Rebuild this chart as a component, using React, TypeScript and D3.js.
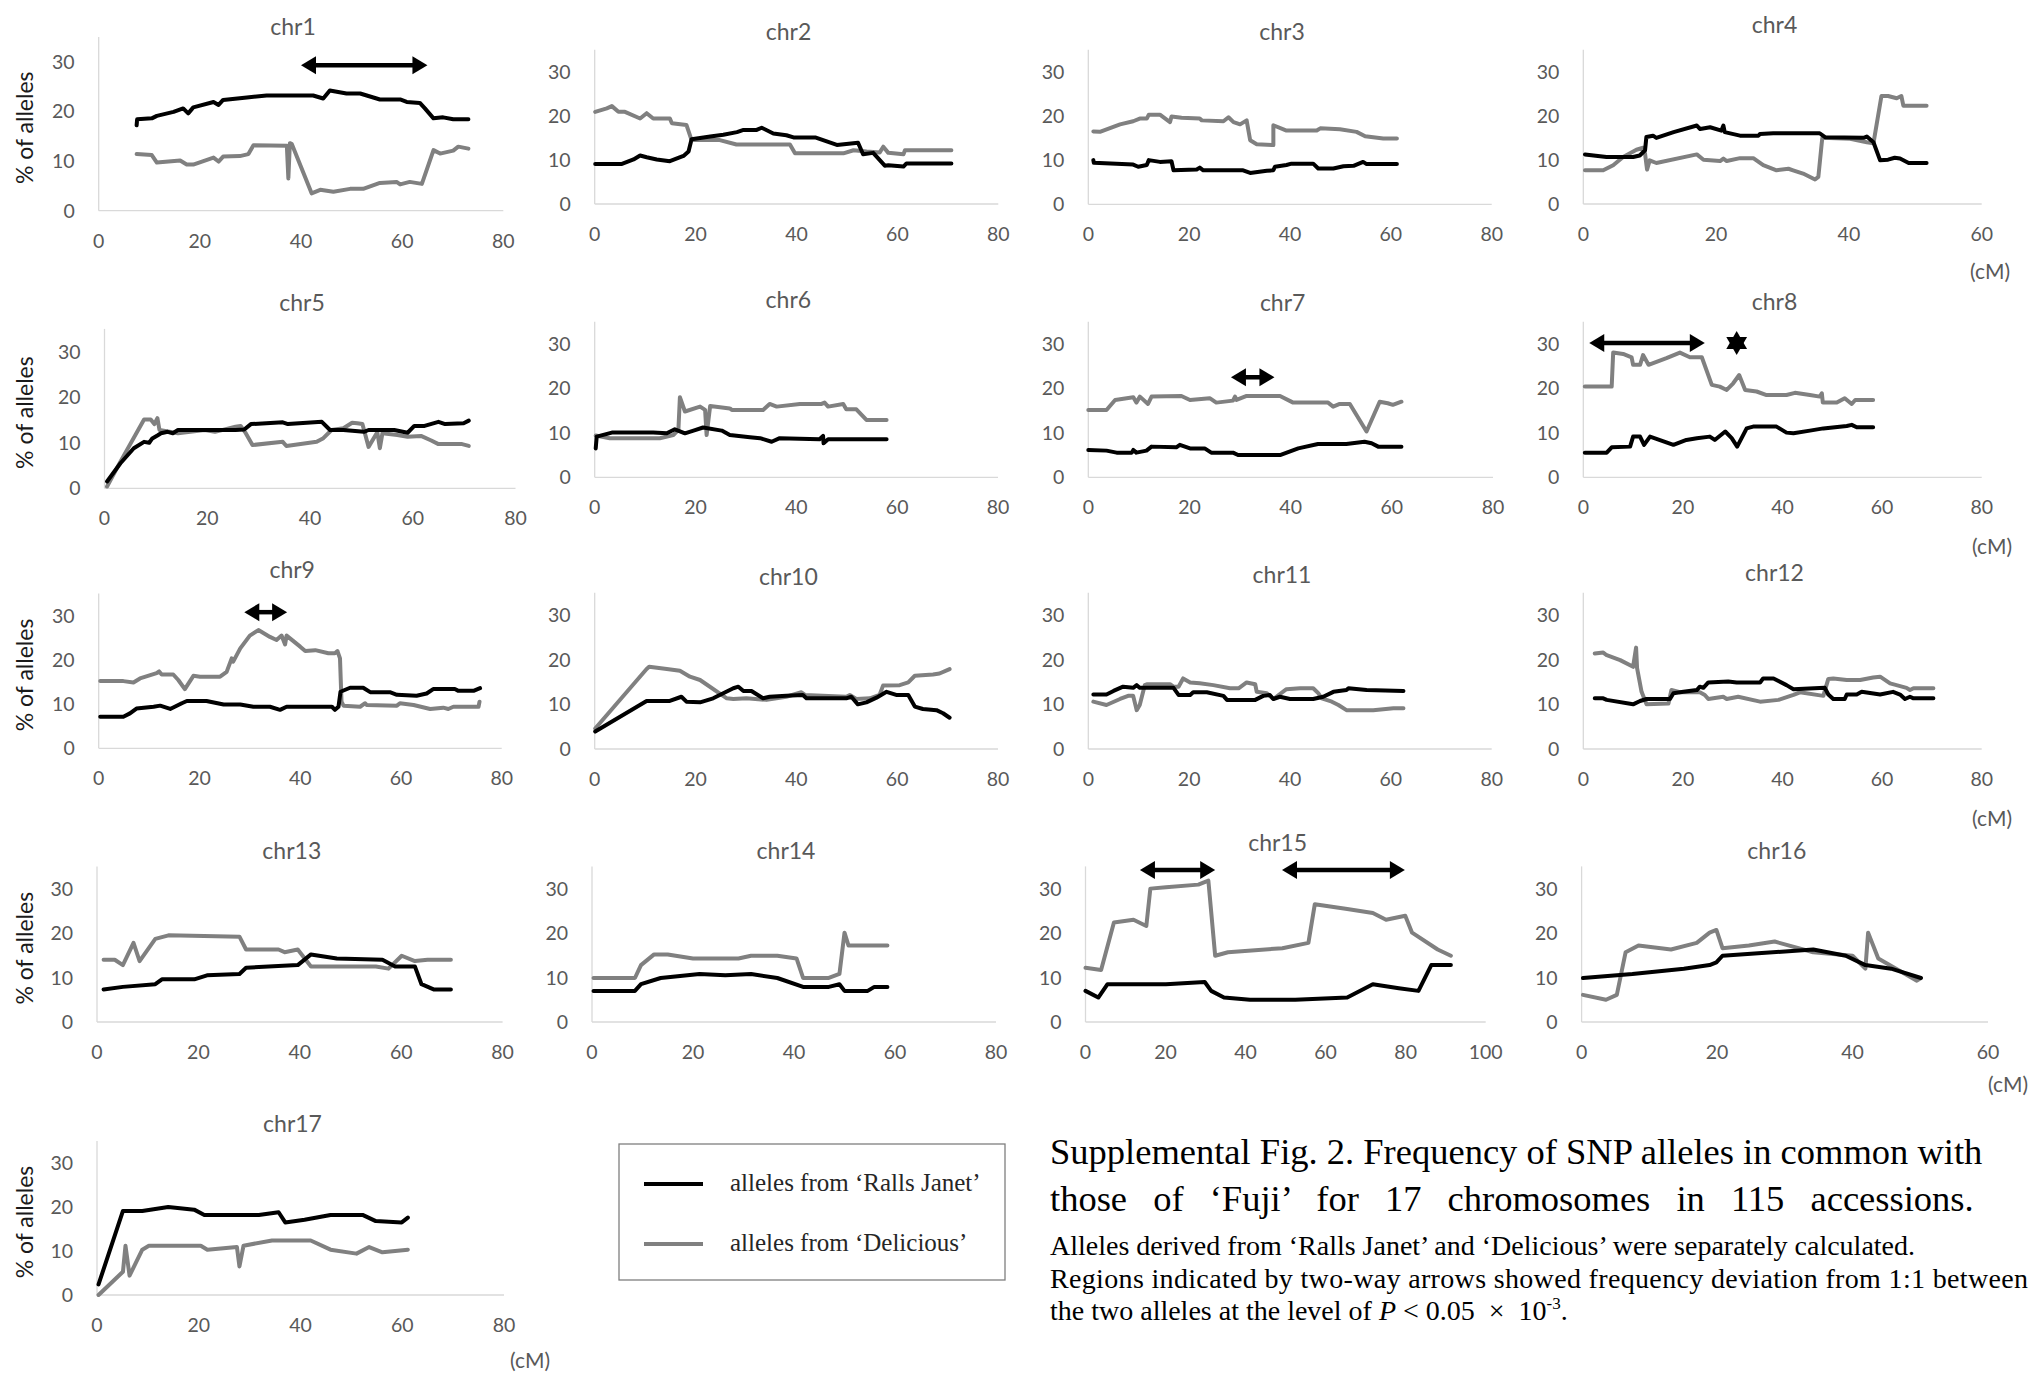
import React from "react";
import * as d3 from "d3";

type Pt = [number, number];

// --- data: [cM, % of alleles] ---
const chr1Ralls: Pt[] = [[7.5,17.2],[7.6,18.4],[10.5,18.6],[11.5,19.1],[14.8,19.9],[16.7,20.6],[17.7,19.6],[18.7,20.8],[22.7,21.9],[23.7,21.3],[24.6,22.3],[29.3,22.8],[33.2,23.2],[42.4,23.2],[44.4,22.6],[45.7,24.2],[49,23.6],[51.7,23.6],[55.6,22.4],[59.6,22.4],[60.9,21.9],[63.5,21.7],[64.5,20.6],[66.2,18.6],[68.1,18.8],[70.1,18.4],[73.1,18.4]];
const chr1Delicious: Pt[] = [[7.5,11.4],[10.5,11.2],[11.5,9.7],[16.1,10.1],[17.4,9.3],[18.7,9.3],[22.7,10.7],[23.7,9.9],[24.6,10.9],[27.9,11],[29.6,11.4],[30.6,13.2],[37.2,13.1],[37.5,6.5],[37.8,13.6],[38.2,13.4],[42.1,3.5],[43.8,4.2],[46.4,3.8],[49.7,4.4],[52.3,4.4],[55.6,5.6],[58.9,5.8],[59.6,5.3],[61.5,5.8],[63.9,5.4],[66.2,12.2],[67.5,11.5],[70.1,12.1],[71.1,12.9],[73.1,12.5]];

const chr2Ralls: Pt[] = [[0.1,9.1],[5.4,9.1],[7.7,10.1],[9,11],[10.3,10.6],[12.3,10.1],[14.9,9.7],[17.6,10.9],[18.6,11.9],[19.2,14.7],[22.9,15.3],[25.5,15.7],[28.2,16.3],[29.5,16.8],[32.1,16.8],[33.1,17.3],[35.4,16],[38,15.6],[39.4,15.1],[43.7,15.1],[48,13.4],[52.2,13.9],[53.2,11.3],[55.2,11.6],[57.5,8.7],[58.2,8.8],[61.2,8.5],[61.8,9.2],[70.7,9.2]];
const chr2Delicious: Pt[] = [[0.1,20.9],[2.4,21.7],[3.4,22.2],[4.7,20.9],[6,20.9],[9,19.4],[10.3,20.6],[11.6,19.4],[14.9,19.4],[15.3,18.3],[18.2,17.9],[19.2,14.5],[24.8,14.5],[28.1,13.5],[38.7,13.5],[39.7,11.5],[49.3,11.5],[51.3,12.2],[53.9,11.9],[56.5,11.7],[57.2,13],[58.2,11.6],[61.2,11.3],[61.5,12.2],[70.7,12.2]];

const chr3Ralls: Pt[] = [[1,10],[1.1,9.4],[8.9,9],[9.9,8.5],[11.6,8.9],[12,10],[14.2,9.6],[16.5,9.75],[16.9,7.7],[21.5,7.9],[22.1,8.3],[22.8,7.7],[30.7,7.7],[32.1,7.1],[35.4,7.6],[36.7,7.7],[37,8.5],[39.3,8.9],[40.3,9.2],[44.6,9.2],[45.6,8.1],[48.6,8.1],[50.6,8.6],[52.6,8.7],[54.5,9.6],[55.2,9.1],[61.2,9.1]];
const chr3Delicious: Pt[] = [[1,16.5],[2.3,16.4],[6.3,18.1],[8.9,18.8],[10.2,19.4],[11.6,19.4],[12,20.3],[14.2,20.3],[16.2,18.6],[16.5,19.9],[18.5,19.6],[22.1,19.4],[22.5,19],[26.8,18.8],[27.8,19.7],[28.8,18.6],[30.1,18.1],[31.4,19],[32.1,14.5],[33.4,13.6],[36.7,13.4],[36.7,17.9],[39.3,16.7],[45.3,16.7],[46,17.2],[49.9,17],[53.2,16.4],[54.9,15.4],[58.5,14.9],[61.2,14.9]];

const chr4Ralls: Pt[] = [[0.25,11.25],[3.5,10.65],[7.5,10.65],[8.5,11],[9.3,12.2],[9.5,15.2],[10.5,15.5],[11,15],[13.6,16.3],[17.1,17.8],[17.6,17],[19.1,17.4],[20.8,16.65],[21.1,17.8],[21.3,16.3],[23.6,15.5],[26.4,15.5],[26.6,15.9],[28.6,16.05],[35.6,16.05],[36.4,15.15],[42.2,15],[42.7,15.3],[43.7,14],[44.7,9.9],[45.9,10.05],[46.9,10.5],[47.7,10.3],[49,9.3],[51.7,9.3]];
const chr4Delicious: Pt[] = [[0.25,7.65],[3,7.65],[4.5,8.8],[6,10.65],[8,12.3],[9,12.75],[9.3,11.4],[9.6,7.8],[10,9.9],[11,9.3],[17.1,11.25],[18.1,10.05],[20.6,9.75],[21.1,10.3],[21.6,9.75],[23.6,10.4],[25.6,10.4],[27.1,8.8],[29.1,7.65],[30.9,8],[31.6,7.65],[33.1,6.9],[34.9,5.55],[35.4,6.15],[35.9,13.65],[36,15],[40.2,14.8],[42.7,14],[43.7,13.8],[44.9,24.5],[45.9,24.5],[47.2,24],[47.9,24.5],[48.2,22.3],[51.7,22.3]];

const chr5Ralls: Pt[] = [[0.5,1.5],[3.1,5.5],[5.7,8.8],[7.7,10.2],[8.7,10],[9.3,10.95],[10.3,11.6],[11,12.1],[12.3,12.4],[13.3,12.1],[14.3,12.8],[25.5,12.8],[27.2,12.9],[28.5,14.1],[34.7,14.5],[35.7,14.1],[42.3,14.6],[43.9,12.8],[46.5,12.8],[50.5,12.4],[51.4,12.8],[56.4,12.8],[59,12.2],[60.3,13.7],[62.3,13.7],[65,14.6],[66.3,14.1],[69.9,14.3],[70.9,14.85]];
const chr5Delicious: Pt[] = [[0.5,0.4],[3.1,5.85],[7.7,15.1],[9,15.1],[9.7,14.1],[10.3,15.4],[10.7,12.8],[14.3,12.1],[19.5,12.8],[21.5,12.4],[25.5,13.5],[26.5,13.7],[27.5,12.1],[28.8,9.5],[34.7,10.2],[35.4,9.3],[41.3,10.2],[42.6,11],[44.2,12.8],[46.5,13.2],[48.2,14.4],[49.2,14.3],[50.2,14.1],[51.4,9.1],[53.1,12.3],[53.6,8.8],[54.1,12.1],[57,11.7],[59,11.3],[61.6,11.5],[63.6,10.5],[65,9.7],[69.6,9.7],[70.9,9.3]];

const chr6Ralls: Pt[] = [[0.2,6.5],[0.4,9.15],[3.4,10.05],[11.6,10.05],[14.3,9.9],[15.9,10.8],[17.9,9.9],[19.6,10.5],[21.5,11.2],[25.2,10.5],[26.8,9.5],[30.8,9],[32.8,8.8],[35.1,8],[36.7,8.8],[44.6,8.55],[45.3,9.3],[45.4,7.65],[46.3,8.55],[57.9,8.55]];
const chr6Delicious: Pt[] = [[0.2,9.4],[3,8.8],[12.9,8.8],[15.6,9.5],[16.6,10.65],[16.9,18],[17.9,14.8],[20.9,15.9],[21.9,15.15],[22.2,9.5],[22.9,16.05],[26.8,15.5],[27.2,15.15],[33.4,15.15],[34.7,16.5],[36.1,15.9],[40.7,16.5],[45,16.5],[45.6,16.8],[46.3,15.9],[49.3,16.5],[49.9,15.3],[51.9,15.3],[53.9,12.9],[57.9,12.9]];

const chr7Ralls: Pt[] = [[0,6.15],[3.6,6],[5.6,5.55],[8.6,5.55],[8.9,6.15],[9.5,5.55],[11.5,6],[12.5,6.9],[17.4,6.75],[18.1,7.3],[20.1,6.5],[23,6.5],[24.3,5.55],[28.6,5.55],[29.6,5],[37.9,5],[41.5,6.5],[45.4,7.5],[51,7.5],[54.6,8],[56,7.65],[57.3,6.9],[61.9,6.9]];
const chr7Delicious: Pt[] = [[0,15.15],[3.6,15.15],[5.3,17.4],[8.9,18],[9.5,16.8],[10.2,18.15],[11.8,16.5],[12.5,18.15],[18.4,18.3],[20.1,17.4],[24,17.8],[25.3,16.8],[28.6,17.25],[29,18.15],[29.3,17.4],[31.3,18.3],[37.9,18.3],[40.5,16.8],[47.4,16.8],[48.4,15.9],[49.7,16.5],[51.7,16.5],[55,10.3],[57.6,17],[59.2,16.65],[60.2,16.3],[61.9,17]];

const chr8Ralls: Pt[] = [[0.3,5.55],[4.7,5.55],[5.7,6.75],[9.4,6.9],[10,9.15],[11.4,9.15],[12.2,7.3],[13.4,9.15],[18.1,7.3],[20.7,8.4],[22.8,8.8],[25.4,9.15],[26.4,8.4],[28.5,10.3],[29.8,8.8],[30.9,6.9],[32.8,11],[34.1,11.4],[38.8,11.4],[40.8,10.05],[42.2,9.9],[45.5,10.5],[48.2,11],[52.9,11.55],[53.9,11.8],[54.9,11.25],[58.2,11.25]];
const chr8Delicious: Pt[] = [[0.3,20.4],[5.7,20.4],[6,28.05],[8,27.75],[9.7,27],[10,25.3],[11.4,25.3],[12,27.5],[13.1,25.3],[16.7,26.8],[19.4,28.05],[21.4,27],[23.8,27],[25.8,20.8],[27.4,20.4],[28.8,19.65],[30.1,21.15],[31.3,23],[32.5,19.65],[34.8,19.3],[36.8,18.5],[40.8,18.5],[42.5,19],[45.5,18.5],[47.5,18.15],[47.9,18.9],[48.1,16.8],[50.9,16.8],[52.5,17.8],[53.9,16.5],[54.6,17.4],[58.2,17.4]];

const chr9Ralls: Pt[] = [[0.3,7.15],[4.9,7.15],[6.2,7.9],[7.5,9],[10.9,9.4],[12.2,9.65],[14.2,8.9],[16.5,10.2],[17.5,10.7],[21.4,10.7],[24.8,9.9],[28.1,9.9],[30.7,9.4],[34,9.4],[36,8.7],[37.3,9.4],[46.3,9.4],[46.9,8.7],[47.6,9.4],[48,12.8],[49.9,13.7],[52.5,13.7],[53.9,12.7],[57.8,12.7],[59.2,12.1],[63.1,11.9],[65.1,12.4],[66.4,13.4],[70.7,13.4],[71.4,13],[74.4,13],[75.7,13.6]];
const chr9Delicious: Pt[] = [[0.3,15.2],[4.9,15.2],[6.9,14.9],[8.2,15.8],[11.5,17],[12,17.4],[12.5,16.7],[14.8,16.7],[15.8,15.45],[17.1,13.4],[18.8,16.4],[20.1,16.2],[24.1,16.2],[25.4,17.3],[26.4,20.35],[26.7,19.6],[28.1,22.6],[30,25.5],[31.7,26.75],[34,25.2],[35.3,24.5],[36.3,25.5],[37,23.5],[37.3,25.5],[40,23],[41,22],[43,22.2],[45.6,21.5],[46.9,21.5],[47.4,22],[47.9,20.35],[48.2,10.55],[48.6,9.65],[51.9,9.4],[52.9,10.2],[53.2,9.8],[59.2,9.65],[59.8,10.2],[62.5,9.8],[65.8,8.9],[68.4,9.2],[69.4,8.9],[70.4,9.4],[75.4,9.4],[75.6,10.55]];

const chr10Ralls: Pt[] = [[0.1,3.9],[10.3,10.75],[14.9,10.75],[17.2,11.7],[18.2,10.6],[20.9,10.45],[23.5,11.35],[27.5,13.6],[28.5,13.95],[29.5,13],[31.1,13],[33.4,11.35],[34.7,11.7],[38,11.9],[41.3,12.1],[42,11.35],[49.9,11.35],[50.9,11.7],[52.2,10],[53.9,10.45],[55.9,11.5],[57.9,12.8],[59.8,12.1],[62.2,12.1],[63.5,9.5],[65.1,8.95],[67.8,8.7],[69.1,8],[70.4,7]];
const chr10Delicious: Pt[] = [[0.1,4.6],[10.3,17.9],[10.8,18.4],[14.3,17.9],[16.9,17.5],[18.9,16.2],[20.9,15.45],[26.2,11.35],[27.5,11.2],[30.1,11.35],[34.1,11],[38,11.7],[41,12.7],[41.7,12.1],[49.9,11.7],[50.6,12.1],[51.9,11.2],[54.6,11.35],[56.5,12.1],[57.2,14.2],[60.5,14.3],[62.2,14.9],[63.5,16.4],[67.1,16.7],[68.4,16.9],[70.4,17.9]];

const chr11Ralls: Pt[] = [[1,12.2],[3.6,12.2],[5,13],[6.9,13.95],[8.9,13.7],[9.6,14.3],[10.2,13.7],[16.9,13.7],[17.9,12.1],[20.2,12.1],[20.8,12.7],[23.5,12.7],[26.8,11.9],[27.5,11],[33.1,11],[34.7,11.9],[36,12.1],[36.7,11.2],[38,11.7],[40,11.2],[44.6,11.2],[46.6,11.7],[48.6,12.8],[51.2,13.2],[51.6,13.6],[55.2,13.2],[62.5,13]];
const chr11Delicious: Pt[] = [[1,10.6],[3.6,9.85],[6.3,11.2],[7.9,11.9],[8.9,11.9],[9.6,8.7],[10.2,9.85],[11.2,14.3],[11.6,14.5],[16.2,14.5],[16.9,13.95],[17.9,13.95],[18.8,15.8],[20.2,14.9],[22.1,14.7],[24.8,14.3],[28.1,13.6],[29.8,13.6],[31.4,14.9],[33.1,14.5],[33.4,12.8],[35.4,12.5],[36.7,11.2],[39.3,13.4],[42,13.6],[44.6,13.6],[45.6,12.5],[46.3,11.35],[48.3,10.6],[49.6,9.85],[51.2,8.7],[56.5,8.7],[60.5,9.1],[62.5,9.1]];

const chr12Ralls: Pt[] = [[2.3,11.35],[4,11.35],[4.7,11],[10,10],[11.4,10.75],[12.7,11.2],[17.4,11.2],[18.1,12.5],[20.1,12.8],[22.8,13.2],[23.4,13.95],[24.1,13.7],[25.1,14.9],[29.1,15.1],[30.8,14.9],[35.5,14.9],[36.1,15.8],[38.2,15.8],[40.8,14.3],[42.2,13.4],[48.5,13.7],[49.2,12.2],[50.2,11.2],[52.5,11.2],[52.9,12.2],[54.9,12.2],[55.9,12.8],[59.6,12.2],[62.2,12.8],[63.6,12.2],[64.6,11.2],[65.6,11.7],[66.3,11.35],[70.3,11.35]];
const chr12Delicious: Pt[] = [[2.3,21.4],[4,21.6],[4.7,21],[7.4,19.9],[10,18.4],[10.6,22.7],[10.8,18.1],[11.7,12.8],[12.7,10],[17.1,10.2],[17.7,13.2],[19.4,12.7],[23.4,12.7],[24.4,12.1],[25.1,11.2],[28.1,11.7],[28.8,11.2],[31.1,11.7],[35.5,10.6],[39.2,11],[42.2,12.1],[43.5,12.7],[48.2,11.9],[49.2,15.7],[50.2,15.8],[52.9,15.45],[55.6,15.45],[58.2,16],[59.6,16.2],[61.6,14.7],[64.9,13.7],[65.6,13.2],[66.3,13.6],[70.3,13.6]];

const chr13Ralls: Pt[] = [[1.3,7.3],[5.1,7.9],[11.5,8.5],[12.8,9.6],[19.2,9.6],[21.7,10.5],[28.1,10.8],[29.4,12.2],[39.6,12.8],[42.2,15.2],[47.3,14.3],[56.3,14],[58.8,12.5],[62.7,12.5],[64,8.5],[66.5,7.3],[69.8,7.3]];
const chr13Delicious: Pt[] = [[1.3,14],[3.5,14],[5.1,12.8],[7.2,17.8],[8.4,13.7],[11.5,18.7],[14.1,19.5],[28.1,19.2],[29.4,16.3],[35.8,16.3],[37,15.7],[39.6,16.3],[42.2,12.5],[55,12.5],[57.5,12],[60.1,14.9],[62.7,13.7],[65.2,14],[69.8,14]];

const chr14Ralls: Pt[] = [[0.3,7],[8.5,7],[9.7,8.5],[13.6,9.9],[21.3,10.8],[26.4,10.5],[31.5,10.8],[36.7,9.9],[41.8,7.9],[46.9,7.9],[49,8.5],[50,7],[54.6,7],[55.9,7.9],[58.5,7.9]];
const chr14Delicious: Pt[] = [[0.3,9.9],[8.5,9.9],[9.7,12.8],[12.3,15.2],[15,15.2],[20,14.3],[29,14.3],[31.5,14.9],[36.7,14.9],[40.5,14.3],[41.8,9.9],[46.9,9.9],[49,10.8],[50,20.1],[50.8,17.2],[58.5,17.2]];

const chr15Ralls: Pt[] = [[0,7],[3.2,5.5],[5.5,8.5],[20.1,8.5],[29.8,9],[31.4,7],[34.6,5.5],[41.1,5],[52.4,5],[65.4,5.5],[71.8,8.5],[78.3,7.6],[83.2,7],[86.4,12.8],[91.3,12.8]];
const chr15Delicious: Pt[] = [[0,12.2],[3.9,11.7],[7.1,22.4],[12,23],[15.2,21.6],[16.2,30],[20.1,30.3],[28.2,30.9],[30.7,31.8],[32.4,14.9],[35.6,15.7],[49.2,16.6],[55.7,17.8],[57.3,26.5],[65.4,25.4],[71.8,24.5],[75.1,23],[79.9,23.9],[81.6,20.1],[88,16.3],[91.3,14.9]];

const chr16Ralls: Pt[] = [[0.2,9.9],[7.5,10.8],[15.1,12],[18.9,12.8],[19.9,13.4],[20.8,14.9],[26.6,15.5],[34.2,16.3],[39,14.9],[41.9,12.8],[45.7,12],[50.1,9.9]];
const chr16Delicious: Pt[] = [[0.2,6.1],[3.6,5],[5.2,6.1],[6.5,15.7],[8.4,17.2],[13.2,16.3],[17,17.8],[18.9,20.1],[19.9,20.7],[20.8,16.6],[24.7,17.2],[28.5,18.1],[34.2,15.7],[40,14.9],[41.9,12],[42.3,20.1],[43.8,14.3],[49.5,9.3],[50.1,9.9]];

const chr17Ralls: Pt[] = [[0.3,2.4],[5.1,19.1],[8.9,19.1],[14,20],[19.1,19.4],[21.1,18.2],[31.8,18.2],[35.7,18.8],[37,16.5],[40.8,17.1],[45.9,18.2],[52.2,18.2],[54.8,16.8],[59.9,16.5],[61.1,17.6]];
const chr17Delicious: Pt[] = [[0.3,0],[5.1,5.3],[5.6,11.2],[6.4,4.4],[8.9,10.3],[10.2,11.2],[20.4,11.2],[21.7,10.3],[27.5,10.9],[28,6.5],[28.8,11.2],[34.4,12.4],[42,12.4],[45.9,10.3],[51,9.4],[53.5,10.9],[56.1,9.7],[61.1,10.3]];

// regions marked with two-way arrows: [from cM, to cM, height %]
const chr1Arrows = [[40, 65, 29.3]];
const chr7Arrows = [[28.2, 36.8, 22.5]];
const chr8Arrows = [[1.2, 24.4, 30.2]];
const chr8Stars = [[30.8, 30.2]];
const chr9Arrows = [[28.9, 37.4, 30.8]];
const chr15Arrows = [[13.6, 32.4, 34.2], [49.1, 79.8, 34.2]];

const xMaxes = [80, 80, 80, 60, 80, 80, 80, 80, 80, 80, 80, 80, 80, 80, 100, 60, 80];
const yTickValues = [0, 10, 20, 30];

const panels = [
  { name: "chr1", ralls: chr1Ralls, del: chr1Delicious, arrows: chr1Arrows },
  { name: "chr2", ralls: chr2Ralls, del: chr2Delicious },
  { name: "chr3", ralls: chr3Ralls, del: chr3Delicious },
  { name: "chr4", ralls: chr4Ralls, del: chr4Delicious },
  { name: "chr5", ralls: chr5Ralls, del: chr5Delicious },
  { name: "chr6", ralls: chr6Ralls, del: chr6Delicious },
  { name: "chr7", ralls: chr7Ralls, del: chr7Delicious, arrows: chr7Arrows },
  { name: "chr8", ralls: chr8Ralls, del: chr8Delicious, arrows: chr8Arrows, stars: chr8Stars },
  { name: "chr9", ralls: chr9Ralls, del: chr9Delicious, arrows: chr9Arrows },
  { name: "chr10", ralls: chr10Ralls, del: chr10Delicious },
  { name: "chr11", ralls: chr11Ralls, del: chr11Delicious },
  { name: "chr12", ralls: chr12Ralls, del: chr12Delicious },
  { name: "chr13", ralls: chr13Ralls, del: chr13Delicious },
  { name: "chr14", ralls: chr14Ralls, del: chr14Delicious },
  { name: "chr15", ralls: chr15Ralls, del: chr15Delicious, arrows: chr15Arrows },
  { name: "chr16", ralls: chr16Ralls, del: chr16Delicious },
  { name: "chr17", ralls: chr17Ralls, del: chr17Delicious },
];

// pixel frame of every small plot: left/right = x range, bottom = y(0), top = y(35)
const frames = [
  { left: 98.7, right: 503.3, bottom: 210.7, top: 36.9, titleY: 34.5, yLabel: true },
  { left: 594.7, right: 998.3, bottom: 204, top: 49.7, titleY: 39.5 },
  { left: 1088.3, right: 1491.7, bottom: 204.3, top: 49.7, titleY: 39.5 },
  { left: 1583.3, right: 1981.7, bottom: 204, top: 49.7, titleY: 33.3, cm: [2010, 279] },
  { left: 104.5, right: 515.5, bottom: 488.3, top: 328.9, titleY: 311, yLabel: true },
  { left: 594.7, right: 998, bottom: 477.3, top: 321.7, titleY: 308 },
  { left: 1088.3, right: 1493, bottom: 477.3, top: 321.7, titleY: 311 },
  { left: 1583.3, right: 1981.7, bottom: 477.3, top: 321.7, titleY: 309.5, cm: [2012, 554] },
  { left: 98.7, right: 501.7, bottom: 748.3, top: 593.6, titleY: 578, yLabel: true },
  { left: 594.7, right: 998, bottom: 749, top: 592.7, titleY: 584.5 },
  { left: 1088.3, right: 1491.7, bottom: 749, top: 592.7, titleY: 583 },
  { left: 1583.3, right: 1981.7, bottom: 749, top: 592.7, titleY: 581, cm: [2012, 826] },
  { left: 97, right: 502.6, bottom: 1022, top: 866.4, titleY: 859, yLabel: true },
  { left: 592, right: 996, bottom: 1022, top: 866.4, titleY: 859 },
  { left: 1085.5, right: 1485.7, bottom: 1022, top: 866.4, titleY: 851 },
  { left: 1581.6, right: 1988, bottom: 1022, top: 866.4, titleY: 859, cm: [2028, 1092] },
  { left: 97, right: 504, bottom: 1295, top: 1141, titleY: 1132, yLabel: true, cm: [550, 1368] },
];

const BLACK = "#000000";
const GREY = "#808080";
const AXIS = "#d9d9d9";
const TICK = "#595959";
const SANS = "Lato, 'Open Sans', sans-serif";
const SERIF = "'Liberation Serif', 'Times New Roman', serif";

function Arrow({ x1, x2, y }: { x1: number; x2: number; y: number }) {
  const head = 15;
  const half = 9;
  return (
    <g fill={BLACK}>
      <line x1={x1 + head - 1} x2={x2 - head + 1} y1={y} y2={y} stroke={BLACK} strokeWidth={4.5} />
      <path d={`M${x1},${y} L${x1 + head},${y - half} L${x1 + head},${y + half} Z`} />
      <path d={`M${x2},${y} L${x2 - head},${y - half} L${x2 - head},${y + half} Z`} />
    </g>
  );
}

function Star({ cx, cy }: { cx: number; cy: number }) {
  const r = 12;
  const tri = (a0: number) =>
    d3.range(3).map((i) => {
      const a = a0 + (i * 2 * Math.PI) / 3;
      return `${cx + r * Math.cos(a)},${cy + r * Math.sin(a)}`;
    }).join(" ");
  return (
    <g fill={BLACK}>
      <polygon points={tri(-Math.PI / 2)} />
      <polygon points={tri(Math.PI / 2)} />
    </g>
  );
}

function Panel({ p, f, xMax }: { p: any; f: any; xMax: number }) {
  const x = d3.scaleLinear().domain([0, xMax]).range([f.left, f.right]);
  const y = d3.scaleLinear().domain([0, 35]).range([f.bottom, f.top]);
  const line = d3.line<Pt>().x((d) => x(d[0])).y((d) => y(d[1]));
  const xTicks = d3.range(0, xMax + 1, 20);
  const cx = (f.left + f.right) / 2 - 8;
  return (
    <g>
      <text x={cx} y={f.titleY} textAnchor="middle" fontFamily={SANS} fontSize={23} fill={TICK}>
        {p.name}
      </text>
      <line x1={f.left} x2={f.left} y1={f.top} y2={f.bottom} stroke={AXIS} strokeWidth={1.3} />
      <line x1={f.left} x2={f.right} y1={f.bottom} y2={f.bottom} stroke={AXIS} strokeWidth={1.3} />
      {yTickValues.map((t) => (
        <text key={"y" + t} x={f.left - 24} y={y(t)} dy="0.36em" textAnchor="end" fontFamily={SANS} fontSize={19.5} fill={TICK}>
          {t}
        </text>
      ))}
      {xTicks.map((t) => (
        <text key={"x" + t} x={x(t)} y={f.bottom + 37} textAnchor="middle" fontFamily={SANS} fontSize={19.5} fill={TICK}>
          {t}
        </text>
      ))}
      {f.yLabel && (
        <text
          transform={`translate(33,${(f.top + f.bottom) / 2 + 4}) rotate(-90)`}
          textAnchor="middle"
          fontFamily={SANS}
          fontSize={23}
          fill="#1a1a1a"
        >
          % of alleles
        </text>
      )}
      {f.cm && (
        <text x={f.cm[0]} y={f.cm[1]} textAnchor="end" fontFamily={SANS} fontSize={21} fill={TICK}>
          (cM)
        </text>
      )}
      <path d={line(p.del) ?? ""} fill="none" stroke={GREY} strokeWidth={4} strokeLinejoin="round" strokeLinecap="round" />
      <path d={line(p.ralls) ?? ""} fill="none" stroke={BLACK} strokeWidth={4} strokeLinejoin="round" strokeLinecap="round" />
      {(p.arrows ?? []).map((a: number[], i: number) => (
        <Arrow key={i} x1={x(a[0])} x2={x(a[1])} y={y(a[2])} />
      ))}
      {(p.stars ?? []).map((s: number[], i: number) => (
        <Star key={i} cx={x(s[0])} cy={y(s[1])} />
      ))}
    </g>
  );
}

export default function App() {
  return (
    <svg
      width={2031}
      height={1376}
      viewBox="0 0 2031 1376"
      style={{ position: "absolute", left: 0, top: 0, display: "block", background: "#fff" }}
    >
      <rect width={2031} height={1376} fill="#fff" />
      {panels.map((p, i) => (
        <Panel key={p.name} p={p} f={frames[i]} xMax={xMaxes[i]} />
      ))}

      {/* legend */}
      <g>
        <rect x={619} y={1144} width={386} height={136} fill="none" stroke="#7f7f7f" strokeWidth={1.3} />
        <line x1={644} x2={703} y1={1184} y2={1184} stroke={BLACK} strokeWidth={4} />
        <text x={730} y={1191} fontFamily={SERIF} fontSize={25} fill="#262626">
          alleles from ‘Ralls Janet’
        </text>
        <line x1={644} x2={703} y1={1244} y2={1244} stroke={GREY} strokeWidth={4} />
        <text x={730} y={1251} fontFamily={SERIF} fontSize={25} fill="#262626">
          alleles from ‘Delicious’
        </text>
      </g>

      {/* caption */}
      <g fontFamily={SERIF} fill="#000">
        <text x={1050} y={1164} fontSize={36.5}>
          Supplemental Fig. 2. Frequency of SNP alleles in common with
        </text>
        <text x={1050} y={1211} fontSize={36.5} style={{ wordSpacing: "17px" }}>
          those of ‘Fuji’ for 17 chromosomes in 115 accessions.
        </text>
        <text x={1050} y={1255} fontSize={28}>
          Alleles derived from ‘Ralls Janet’ and ‘Delicious’ were separately calculated.
        </text>
        <text x={1050} y={1288} fontSize={28} textLength={978} lengthAdjust="spacing">
          Regions indicated by two-way arrows showed frequency deviation from 1:1 between
        </text>
        <text x={1050} y={1320} fontSize={28}>
          the two alleles at the level of <tspan fontStyle="italic">P</tspan>
          {" < 0.05 \u00a0×\u00a0 10"}
          <tspan fontSize={17} dy={-11}>-3</tspan>
          <tspan dy={11}>.</tspan>
        </text>
      </g>
    </svg>
  );
}
